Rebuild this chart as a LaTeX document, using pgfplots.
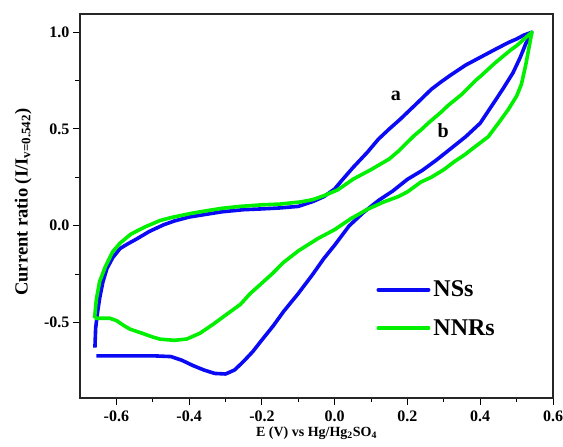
\documentclass[border=0pt]{standalone}
\usepackage{pgfplots}
\pgfplotsset{compat=1.18}
\usepackage{fontspec}
\setmainfont{Liberation Serif}
\definecolor{cvblue}{RGB}{10,10,245}
\definecolor{cvgreen}{RGB}{0,240,0}
\begin{document}
\begin{tikzpicture}
\begin{axis}[
  name=ax,
  scale only axis, width=473pt, height=384pt,
  xmin=-0.7, xmax=0.6, ymin=-0.89, ymax=1.094,
  xtick={-0.6,-0.4,-0.2,0,0.2,0.4,0.6},
  ytick={-0.5,0,0.5,1.0},
  minor x tick num=1, minor y tick num=1,
  xtick pos=bottom, ytick pos=left,
  tick align=outside,
  major tick length=7pt, minor tick length=4.5pt,
  every tick/.style={black, line width=1pt},
  axis line style={line width=1.2pt, black!85},
  /pgf/number format/assume math mode=true,
  /pgf/number format/.cd, fixed, fixed zerofill, precision=1, /pgfplots/.cd,
  ticklabel style={font=\fontsize{16}{18}\selectfont\bfseries},
  xticklabel style={yshift=-2pt},
  xlabel={E (V) vs Hg/Hg\textsubscript{2}SO\textsubscript{4}},
  ylabel={Current ratio (I/I\textsubscript{v=0.542})},
  xlabel style={font=\fontsize{14}{16}\selectfont\bfseries, at={(axis description cs:0.5,-0.091)}, anchor=center},
  ylabel style={font=\fontsize{18.5}{20}\selectfont\bfseries, at={(axis description cs:-0.12,0.51)}, anchor=center},
  legend style={at={(rel axis cs:0.62,0.318)}, anchor=north west, draw=none, fill=none,
    font=\fontsize{24}{26}\selectfont\bfseries, row sep=15pt,
    nodes={inner sep=3pt}},
  legend cell align=left,
  legend image code/.code={\draw[#1, line width=4pt, line cap=round] (0pt,0pt) -- (50pt,0pt);},
  clip=false,
]
\addplot[cvblue, line width=3.6pt, line join=round] coordinates {
(-0.655,-0.672) (-0.60,-0.672) (-0.55,-0.672) (-0.50,-0.672) (-0.45,-0.676)
(-0.42,-0.695) (-0.39,-0.722) (-0.36,-0.745) (-0.33,-0.763) (-0.30,-0.766)
(-0.275,-0.745) (-0.25,-0.700) (-0.225,-0.650) (-0.20,-0.590) (-0.17,-0.520)
(-0.14,-0.442) (-0.10,-0.350) (-0.06,-0.250) (-0.03,-0.170) (0.00,-0.100)
(0.04,0.000) (0.08,0.070) (0.12,0.130) (0.16,0.180) (0.20,0.240)
(0.24,0.285) (0.28,0.340) (0.32,0.400) (0.36,0.460) (0.40,0.530)
(0.43,0.615) (0.46,0.700) (0.49,0.790) (0.51,0.870) (0.525,0.940) (0.542,1.000)
(0.52,0.985) (0.50,0.965) (0.477,0.946) (0.44,0.91) (0.40,0.87)
(0.36,0.83) (0.32,0.78) (0.29,0.74) (0.265,0.704) (0.23,0.64)
(0.20,0.586) (0.18,0.55) (0.15,0.50) (0.12,0.447) (0.09,0.38)
(0.05,0.30) (0.02,0.235) (0.00,0.19) (-0.03,0.15) (-0.06,0.125)
(-0.10,0.10) (-0.15,0.092) (-0.20,0.087) (-0.25,0.083) (-0.31,0.072)
(-0.35,0.060) (-0.40,0.045) (-0.44,0.025) (-0.47,0.005) (-0.51,-0.030)
(-0.543,-0.067) (-0.57,-0.095) (-0.59,-0.118) (-0.61,-0.165) (-0.626,-0.221)
(-0.637,-0.29) (-0.646,-0.375) (-0.652,-0.45) (-0.657,-0.53) (-0.659,-0.63)
};
\addlegendentry{NSs}
\addplot[cvgreen, line width=3.6pt, line join=round] coordinates {
(-0.66,-0.478) (-0.64,-0.478) (-0.618,-0.478) (-0.60,-0.490) (-0.58,-0.515)
(-0.563,-0.534) (-0.53,-0.555) (-0.50,-0.575) (-0.48,-0.586) (-0.44,-0.592)
(-0.406,-0.585) (-0.37,-0.555) (-0.334,-0.509) (-0.30,-0.462) (-0.259,-0.406)
(-0.232,-0.350) (-0.204,-0.303) (-0.17,-0.245) (-0.141,-0.190) (-0.10,-0.130)
(-0.047,-0.067) (0.00,-0.020) (0.044,0.036) (0.09,0.085) (0.135,0.123)
(0.174,0.150) (0.20,0.175) (0.237,0.226) (0.265,0.250) (0.30,0.29)
(0.328,0.330) (0.356,0.365) (0.38,0.40) (0.422,0.460) (0.45,0.53)
(0.477,0.60) (0.50,0.67) (0.513,0.73) (0.525,0.83) (0.535,0.93) (0.542,1.000)
(0.50,0.93) (0.485,0.91) (0.44,0.84) (0.403,0.776) (0.39,0.755)
(0.35,0.68) (0.312,0.622) (0.292,0.586) (0.26,0.535) (0.237,0.495)
(0.218,0.465) (0.175,0.385) (0.15,0.345) (0.10,0.29) (0.052,0.242)
(0.008,0.185) (-0.03,0.155) (-0.06,0.135) (-0.094,0.123) (-0.15,0.112)
(-0.20,0.108) (-0.26,0.100) (-0.31,0.090) (-0.36,0.075) (-0.40,0.062)
(-0.45,0.042) (-0.48,0.027) (-0.52,-0.005) (-0.56,-0.043) (-0.59,-0.09)
(-0.61,-0.134) (-0.63,-0.21) (-0.646,-0.288) (-0.655,-0.38) (-0.66,-0.478)
};
\addlegendentry{NNRs}
\node[font=\fontsize{20}{22}\selectfont\bfseries] at (axis cs:0.168,0.673) {a};
\node[font=\fontsize{20}{22}\selectfont\bfseries] at (axis cs:0.298,0.493) {b};
\end{axis}
\pgfresetboundingbox
\path (ax.south west) ++(-80pt,-49pt) rectangle ++(563pt,447pt);
\end{tikzpicture}
\end{document}
